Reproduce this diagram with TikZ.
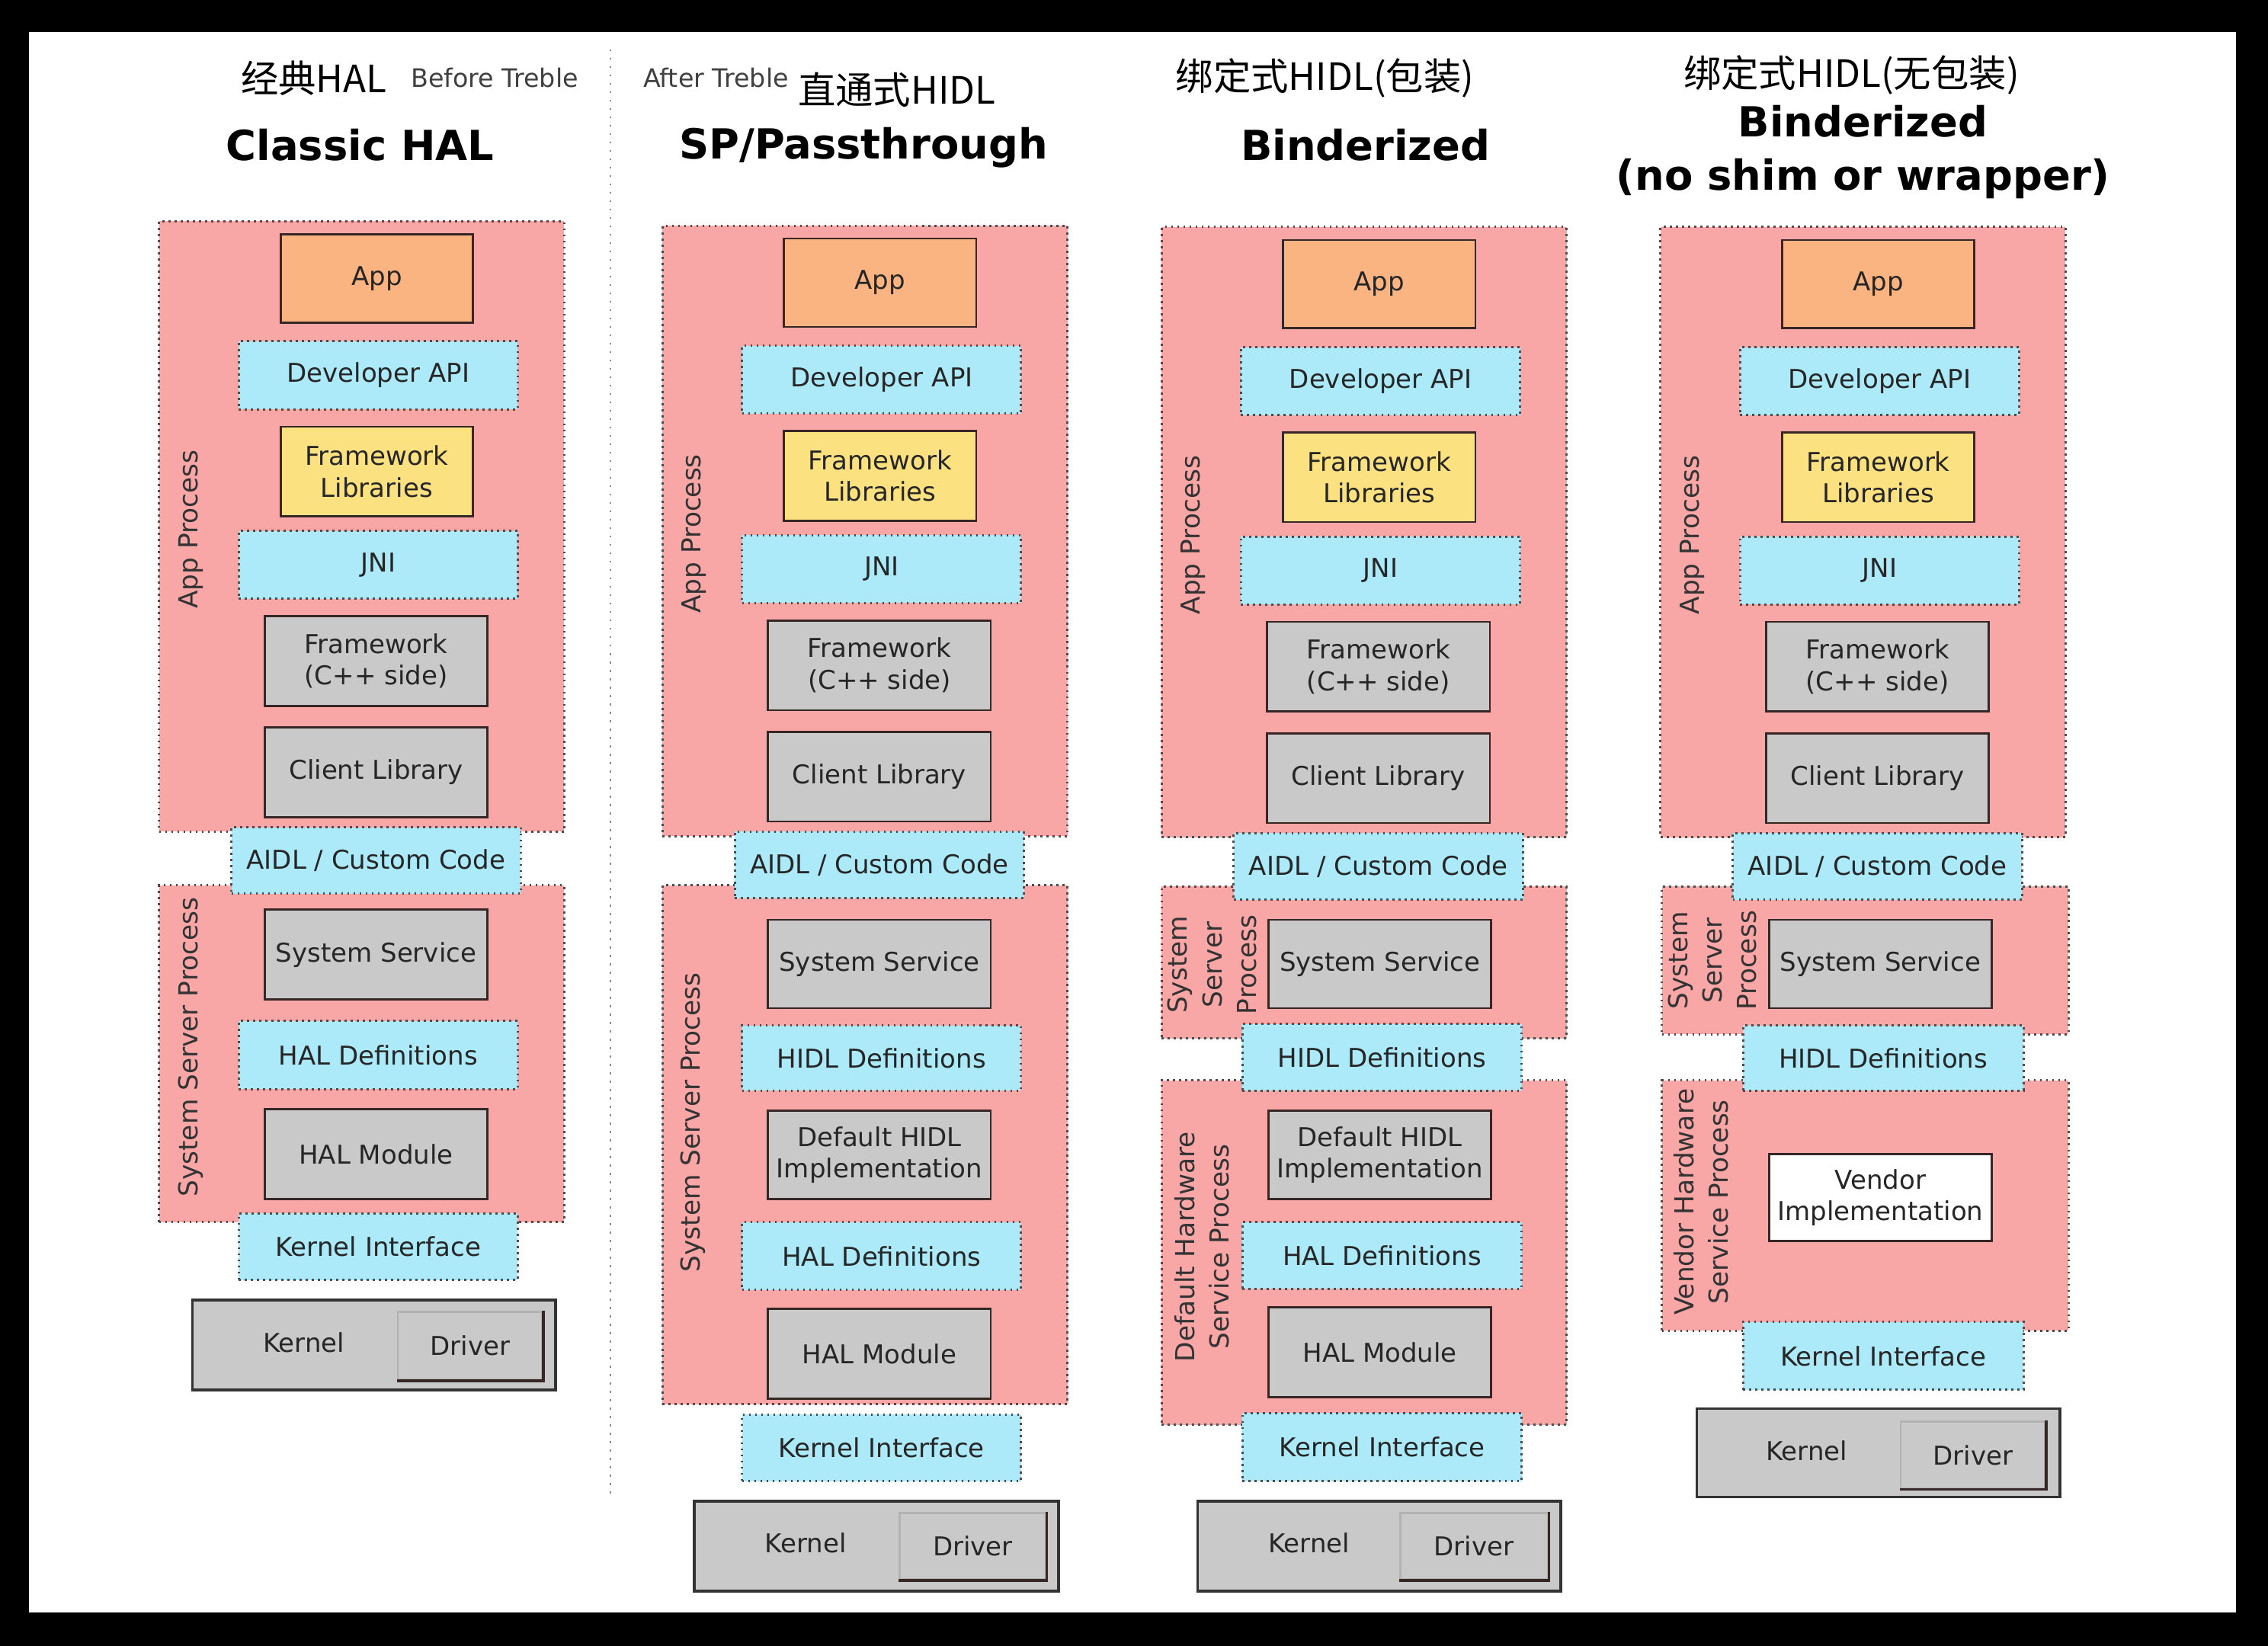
\documentclass[tikz,border=0pt]{standalone}
\usepackage{fontspec}
\setmainfont{DejaVu Sans}
\newfontfamily\cjk{Noto Sans CJK SC}
\definecolor{procpink}{RGB}{249,166,167}
\definecolor{ifblue}{RGB}{172,234,250}
\definecolor{apporange}{RGB}{250,180,130}
\definecolor{libyellow}{RGB}{252,225,128}
\definecolor{blkgray}{RGB}{201,201,201}
\definecolor{edgedark}{RGB}{55,38,38}
\tikzset{
  box/.style={rectangle, inner sep=0pt, align=center, font=\fontsize{10.2}{12.5}\selectfont, text=black!85},
  proc/.style={box, fill=procpink, draw=black!70, line width=0.9pt, dash pattern=on 0.8pt off 1.6pt},
  iface/.style={box, fill=ifblue, draw=black!70, line width=0.9pt, dash pattern=on 0.8pt off 1.6pt},
  solidbox/.style={box, draw=edgedark, line width=0.8pt},
  appbox/.style={solidbox, fill=apporange},
  libbox/.style={solidbox, fill=libyellow},
  graybox/.style={solidbox, fill=blkgray},
  vendorbox/.style={solidbox, fill=white},
  kernbox/.style={box, fill=blkgray, draw=black!80, line width=1.1pt},
  drvbox/.style={box, fill=blkgray, draw=black!30, line width=0.8pt},
  proclabel/.style={rotate=90, align=center, font=\fontsize{10.3}{13.5}\selectfont, text=black!80},
  title/.style={font=\fontsize{16.3}{21}\selectfont\bfseries, align=center},
  cntitle/.style={font=\cjk\fontsize{14.8}{18}\selectfont},
  treble/.style={font=\fontsize{10}{12}\selectfont, text=black!75}
}
% \blk{style}{name}{x1}{y1}{x2}{y2}{text}
\newcommand{\blk}[7]{%
  \node[#1, minimum width={(#5-#3)*0.02cm}, minimum height={(#6-#4)*0.02cm}] (#2)
    at ({(#3+#5)/2},{(#4+#6)/2}) {#7};}
% dark lower/right edge of a driver box
\newcommand{\drvedge}[1]{%
  \draw[edgedark, line width=1pt] (#1.north east) -- (#1.south east) -- (#1.south west);}

\begin{document}
\begin{tikzpicture}[x=0.02cm, y=-0.02cm]
  \useasboundingbox (0,0) rectangle (1568,1138);
  \fill[black] (0,0) rectangle (1568,1138);
  \fill[white] (20,22) rectangle (1546,1115);

  % headings
  \node[cntitle] (cn1) at (217,54) {经典HAL};
  \node[treble] (before) at (342,54) {Before Treble};
  \node[treble] (after) at (495,54) {After Treble};
  \node[cntitle] (cn2) at (620,62) {直通式HIDL};
  \node[cntitle] (cn3) at (916,54) {绑定式HIDL(包装)};
  \node[cntitle] (cn4) at (1280,52) {绑定式HIDL(无包装)};
  \node[title] (title1) at (249,100) {Classic HAL};
  \node[title] (title2) at (597,102) {SP/Passthrough};
  \node[title] (title3) at (944,100) {Binderized};
  \node[title] (title4) at (1288,105) {Binderized\\(no shim or wrapper)};
  \draw[black!45, line width=0.8pt, dash pattern=on 0.8pt off 2.5pt] (422,34) -- (422,1037);

  % lower process areas first
  \blk{proc}{ssp1}{110}{612}{390}{845}{}
  \blk{proc}{ssp2}{458}{612}{738}{971}{}
  \blk{proc}{ssp3}{803}{613}{1083}{718}{}
  \blk{proc}{dhsp3}{803}{747}{1083}{985}{}
  \blk{proc}{ssp4}{1149}{613}{1430}{715}{}
  \blk{proc}{vhsp4}{1149}{747}{1430}{920}{}

  % app process, same in every column
  \foreach \c/\dx/\dy in {1/0/0, 2/348/3, 3/693/4, 4/1038/4}{
    \begin{scope}[shift={(\dx,\dy)}]
      \blk{proc}{appproc\c}{110}{153}{390}{575}{}
      \node[proclabel] (applabel\c) at (132,366) {App Process};
      \blk{appbox}{app\c}{194}{162}{327}{223}{App}
      \blk{iface}{devapi\c}{165}{236}{358}{283}{Developer API}
      \blk{libbox}{fwlib\c}{194}{295}{327}{357}{Framework\\Libraries}
      \blk{iface}{jni\c}{165}{367}{358}{414}{JNI}
      \blk{graybox}{fwcpp\c}{183}{426}{337}{488}{Framework\\(C++ side)}
      \blk{graybox}{client\c}{183}{503}{337}{565}{Client Library}
      \blk{iface}{aidl\c}{160}{572}{360}{618}{AIDL / Custom Code}
    \end{scope}
  }

  % Classic HAL
  \node[proclabel] (ssplabel1) at (132,724) {System Server Process};
  \blk{graybox}{syssvc1}{183}{629}{337}{691}{System Service}
  \blk{iface}{haldef1}{165}{706}{358}{753}{HAL Definitions}
  \blk{graybox}{halmod1}{183}{767}{337}{829}{HAL Module}
  \blk{iface}{kif1}{165}{839}{358}{885}{Kernel Interface}
  \blk{kernbox}{kern1}{133}{899}{384}{961}{}
  \blk{drvbox}{drv1}{275}{907}{375}{954}{Driver}
  \drvedge{drv1}
  \node[box] (kerntxt1) at (210,928) {Kernel};

  % passthrough
  \node[proclabel] (ssplabel2) at (479,776) {System Server Process};
  \blk{graybox}{syssvc2}{531}{636}{685}{697}{System Service}
  \blk{iface}{hidldef2}{513}{709}{706}{754}{HIDL Definitions}
  \blk{graybox}{defimpl2}{531}{768}{685}{829}{Default HIDL\\Implementation}
  \blk{iface}{haldef2}{513}{845}{706}{892}{HAL Definitions}
  \blk{graybox}{halmod2}{531}{905}{685}{967}{HAL Module}
  \blk{iface}{kif2}{513}{978}{706}{1024}{Kernel Interface}
  \blk{kernbox}{kern2}{480}{1038}{732}{1100}{}
  \blk{drvbox}{drv2}{622}{1046}{723}{1092}{Driver}
  \drvedge{drv2}
  \node[box] (kerntxt2) at (557,1067) {Kernel};

  % binderized
  \node[proclabel] (ssplabel3) at (838,667) {System\\Server\\Process};
  \blk{graybox}{syssvc3}{877}{636}{1031}{697}{System Service}
  \blk{iface}{hidldef3}{859}{708}{1052}{754}{HIDL Definitions}
  \node[proclabel] (dhsplabel3) at (831,862) {Default Hardware\\Service Process};
  \blk{graybox}{defimpl3}{877}{768}{1031}{829}{Default HIDL\\Implementation}
  \blk{iface}{haldef3}{859}{845}{1052}{891}{HAL Definitions}
  \blk{graybox}{halmod3}{877}{904}{1031}{966}{HAL Module}
  \blk{iface}{kif3}{859}{977}{1052}{1024}{Kernel Interface}
  \blk{kernbox}{kern3}{828}{1038}{1079}{1100}{}
  \blk{drvbox}{drv3}{968}{1046}{1070}{1092}{Driver}
  \drvedge{drv3}
  \node[box] (kerntxt3) at (905,1067) {Kernel};

  % binderized, no shim
  \node[proclabel] (ssplabel4) at (1184,664) {System\\Server\\Process};
  \blk{graybox}{syssvc4}{1223}{636}{1377}{697}{System Service}
  \blk{iface}{hidldef4}{1205}{709}{1399}{754}{HIDL Definitions}
  \node[proclabel] (vhsplabel4) at (1176,831) {Vendor Hardware\\Service Process};
  \blk{vendorbox}{vendor4}{1223}{798}{1377}{858}{Vendor\\Implementation}
  \blk{iface}{kif4}{1205}{914}{1399}{961}{Kernel Interface}
  \blk{kernbox}{kern4}{1173}{974}{1424}{1035}{}
  \blk{drvbox}{drv4}{1314}{983}{1414}{1029}{Driver}
  \drvedge{drv4}
  \node[box] (kerntxt4) at (1249,1003) {Kernel};
\end{tikzpicture}
\end{document}
